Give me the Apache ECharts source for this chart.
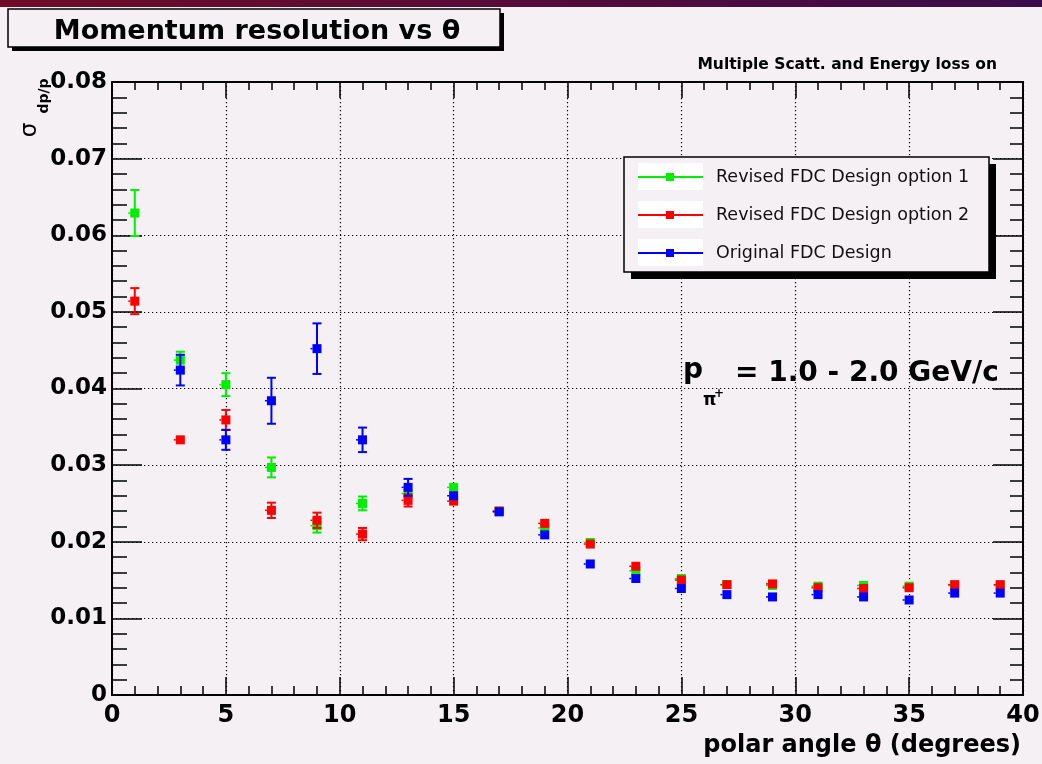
<!DOCTYPE html>
<html><head><meta charset="utf-8">
<script src="https://cdn.jsdelivr.net/npm/echarts@6/dist/echarts.min.js"></script>
<style>html,body{margin:0;padding:0;background:#f4f0f4}#c{width:1042px;height:764px}</style>
</head><body><div id="c"></div>
<script>
// ---- data ----
const angles = [1, 3, 5, 7, 9, 11, 13, 15, 17, 19, 21, 23, 25, 27, 29, 31, 33, 35, 37, 39];
const seriesNames = ['Revised FDC Design option 1', 'Revised FDC Design option 2', 'Original FDC Design'];
const opt1    = [0.0629, 0.0437, 0.0405, 0.0297, 0.0221, 0.0250, 0.0263, 0.0271, 0.0240, 0.0218, 0.0199, 0.0162, 0.0152, 0.0144, 0.0143, 0.0142, 0.0143, 0.0142, 0.0143, 0.0143];
const opt1Err = [0.0030, 0.0011, 0.0015, 0.0013, 0.0009, 0.0009, 0.0006, 0.0005, 0.0003, 0.0004, 0.0003, 0.0003, 0.0003, 0.0002, 0.0002, 0.0002, 0.0002, 0.0002, 0.0002, 0.0002];
const opt2    = [0.0514, 0.0333, 0.0359, 0.0241, 0.0228, 0.0210, 0.0254, 0.0253, 0.0240, 0.0224, 0.0197, 0.0168, 0.0150, 0.0144, 0.0145, 0.0140, 0.0139, 0.0140, 0.0144, 0.0144];
const opt2Err = [0.0017, 0.0003, 0.0013, 0.0010, 0.0010, 0.0008, 0.0008, 0.0004, 0.0003, 0.0003, 0.0002, 0.0003, 0.0003, 0.0002, 0.0002, 0.0002, 0.0002, 0.0002, 0.0002, 0.0002];
const orig    = [null,   0.0424, 0.0333, 0.0384, 0.0452, 0.0333, 0.0271, 0.0260, 0.0239, 0.0209, 0.0171, 0.0152, 0.0139, 0.0131, 0.0128, 0.0131, 0.0128, 0.0124, 0.0133, 0.0133];
const origErr = [0,      0.0020, 0.0013, 0.0030, 0.0033, 0.0016, 0.0011, 0.0006, 0.0003, 0.0003, 0.0003, 0.0003, 0.0003, 0.0002, 0.0002, 0.0002, 0.0002, 0.0002, 0.0002, 0.0002];
const xTickLabels = ['0', '5', '10', '15', '20', '25', '30', '35', '40'];
const yTickLabels = ['0', '0.01', '0.02', '0.03', '0.04', '0.05', '0.06', '0.07', '0.08'];
const colors = ['#00ee00', '#ff0000', '#0000ff'];

const BG = '#f4f0f4';
const chart = echarts.init(document.getElementById('c'), null, {renderer: 'canvas'});

function rows(vals, errs) {
  return angles.map((a, i) => [a, vals[i], errs[i]]).filter(d => d[1] != null);
}
function makeRender(color) {
  return function (params, api) {
    const x = api.value(0), y = api.value(1), e = api.value(2);
    const c = api.coord([x, y]);
    const t = api.coord([x, y + e]);
    const b = api.coord([x, y - e]);
    const h = 4.5, cap = 4.5;
    const kids = [];
    if (b[1] - t[1] > 2 * h + 1) {
      kids.push({type: 'line', shape: {x1: c[0], y1: t[1], x2: c[0], y2: b[1]}, style: {stroke: color, lineWidth: 2}});
      kids.push({type: 'line', shape: {x1: c[0] - cap, y1: t[1], x2: c[0] + cap, y2: t[1]}, style: {stroke: color, lineWidth: 2}});
      kids.push({type: 'line', shape: {x1: c[0] - cap, y1: b[1], x2: c[0] + cap, y2: b[1]}, style: {stroke: color, lineWidth: 2}});
    }
    kids.push({type: 'line', shape: {x1: c[0] - h - 2, y1: c[1], x2: c[0] - h, y2: c[1]}, style: {stroke: color, lineWidth: 1.5}});
    kids.push({type: 'rect', shape: {x: c[0] - h, y: c[1] - h, width: 2 * h, height: 2 * h}, style: {fill: color}});
    return {type: 'group', children: kids};
  };
}

const TICKFONT = '"DejaVu Sans", "Liberation Sans", sans-serif';
function xAxisDef(pos, major, minor, labels) {
  return {
    type: 'value', min: 0, max: 40, interval: 5, position: pos,
    axisLine: {show: true, onZero: false, lineStyle: {color: '#000', width: 2}},
    axisTick: {show: true, inside: true, length: major, lineStyle: {color: '#000', width: 1.5}},
    minorTick: {show: true, splitNumber: 5, length: minor, lineStyle: {color: '#000', width: 1.5}},
    splitLine: {show: labels, lineStyle: {color: '#000', width: 1.2, type: [1.2, 2.8]}},
    axisLabel: {show: labels, margin: 9, color: '#000', fontFamily: TICKFONT, fontWeight: 'bold', fontSize: 24,
      formatter: v => xTickLabels[Math.round(v / 5)]}
  };
}
function yAxisDef(pos, major, minor, labels) {
  return {
    type: 'value', min: 0, max: 0.08, interval: 0.01, position: pos,
    axisLine: {show: true, onZero: false, lineStyle: {color: '#000', width: 2}},
    axisTick: {show: true, inside: true, length: major, lineStyle: {color: '#000', width: 1.5}},
    minorTick: {show: true, splitNumber: 5, length: minor, lineStyle: {color: '#000', width: 1.5}},
    splitLine: {show: labels, lineStyle: {color: '#000', width: 1.2, type: [1.2, 2.8]}},
    axisLabel: {show: labels, margin: 5, color: '#000', fontFamily: TICKFONT, fontWeight: 'bold', fontSize: 23,
      formatter: v => yTickLabels[Math.round(v / 0.01)]}
  };
}

const vals = [opt1, opt2, orig], errs = [opt1Err, opt2Err, origErr];
const series = seriesNames.map((n, k) => ({
  name: n, type: 'custom', renderItem: makeRender(colors[k]),
  encode: {x: 0, y: 1}, data: rows(vals[k], errs[k]), z: 10 + k
}));

// legend drawn as graphic
const LX = 624, LY = 157, LW = 365, LH = 115;
const legendRows = [177, 215, 253];
const legendGfx = [
  {type: 'rect', shape: {x: LX + 7, y: LY + 7, width: LW, height: LH}, style: {fill: '#000'}, z: 100},
  {type: 'rect', shape: {x: LX, y: LY, width: LW, height: LH}, style: {fill: BG, stroke: '#000', lineWidth: 1.5}, z: 101}
];
seriesNames.forEach((n, k) => {
  const ry = legendRows[k];
  legendGfx.push({type: 'rect', shape: {x: 638, y: ry - 14, width: 65, height: 27}, style: {fill: '#ffffff'}, z: 102});
  legendGfx.push({type: 'line', shape: {x1: 638, y1: ry, x2: 703, y2: ry}, style: {stroke: colors[k], lineWidth: 2}, z: 103});
  legendGfx.push({type: 'rect', shape: {x: 666, y: ry - 4, width: 8, height: 8}, style: {fill: colors[k]}, z: 104});
  legendGfx.push({type: 'text', x: 716, y: ry, style: {text: n, font: '17.5px "DejaVu Sans", sans-serif', fill: '#111', textAlign: 'left', textVerticalAlign: 'middle'}, z: 104});
});

const option = {
  animation: false,
  backgroundColor: BG,
  grid: {left: 112, right: 19, top: 82, bottom: 69, containLabel: false, outerBoundsMode: 'none'},
  xAxis: [xAxisDef('bottom', 18, 9, true), xAxisDef('top', 16, 8, false)],
  yAxis: [yAxisDef('left', 30, 15, true), yAxisDef('right', 30, 13, false)],
  series: series,
  graphic: [
    {type: 'rect', shape: {x: 0, y: 0, width: 1042, height: 7},
      style: {fill: new echarts.graphic.LinearGradient(0, 0, 1, 0, [{offset: 0, color: '#6e0c28'}, {offset: 0.5, color: '#560c38'}, {offset: 1, color: '#3a0c4c'}])}, z: 50},
    {type: 'rect', shape: {x: 12, y: 13, width: 492, height: 38}, style: {fill: '#000'}, z: 50},
    {type: 'rect', shape: {x: 8, y: 9, width: 492, height: 38}, style: {fill: BG, stroke: '#000', lineWidth: 1.5}, z: 51},
    {type: 'text', x: 257, y: 32, style: {text: 'Momentum resolution vs θ', font: 'bold 27px "DejaVu Sans", sans-serif', fill: '#000', textAlign: 'center', textVerticalAlign: 'middle'}, z: 52},
    {type: 'text', x: 997, y: 65, style: {text: 'Multiple Scatt. and Energy loss on', font: 'bold 15.5px "DejaVu Sans", sans-serif', fill: '#000', textAlign: 'right', textVerticalAlign: 'middle'}, z: 52},
    {type: 'text', x: 683, y: 385, style: {text: 'p', font: 'bold 28px "DejaVu Sans", sans-serif', fill: '#000', textAlign: 'left', textVerticalAlign: 'bottom'}, z: 52},
    {type: 'text', x: 703, y: 409, style: {text: 'π', font: 'bold 17px "DejaVu Sans", sans-serif', fill: '#000', textAlign: 'left', textVerticalAlign: 'bottom'}, z: 52},
    {type: 'text', x: 714, y: 400, style: {text: '+', font: 'bold 12px "DejaVu Sans", sans-serif', fill: '#000', textAlign: 'left', textVerticalAlign: 'bottom'}, z: 52},
    {type: 'text', x: 735, y: 388, style: {text: '= 1.0 - 2.0 GeV/c', font: 'bold 28px "DejaVu Sans", sans-serif', fill: '#000', textAlign: 'left', textVerticalAlign: 'bottom'}, z: 52},
    {type: 'text', x: 1021, y: 746, style: {text: 'polar angle θ (degrees)', font: 'bold 24px "DejaVu Sans", sans-serif', fill: '#000', textAlign: 'right', textVerticalAlign: 'middle'}, z: 52},
    {type: 'text', x: 30, y: 130, rotation: Math.PI / 2, style: {text: 'σ', font: '23px "DejaVu Sans", sans-serif', fill: '#000', textAlign: 'center', textVerticalAlign: 'middle'}, z: 52},
    {type: 'text', x: 44, y: 96, rotation: Math.PI / 2, style: {text: 'dp/p', font: 'bold 14px "DejaVu Sans", sans-serif', fill: '#000', textAlign: 'center', textVerticalAlign: 'middle'}, z: 52}
  ].concat(legendGfx)
};
chart.setOption(option);
</script>
</body></html>
